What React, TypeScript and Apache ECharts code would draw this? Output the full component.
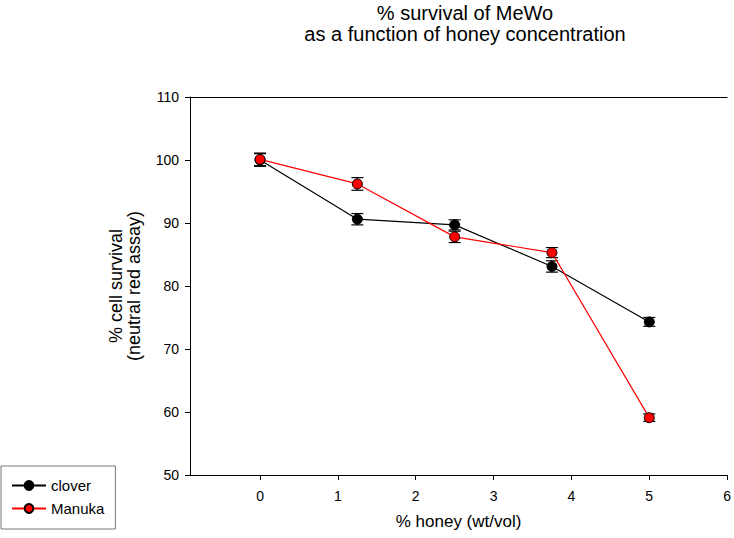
import React, { useEffect, useRef } from "react";
import * as echarts from "echarts";

const xValues = [0, 1.25, 2.5, 3.75, 5];
const cloverValues = [100, 90.6, 89.7, 83.1, 74.3];
const cloverErrors = [1.0, 0.9, 0.8, 0.9, 0.7];
const manukaValues = [100.1, 96.2, 87.8, 85.3, 59.1];
const manukaErrors = [1.0, 1.0, 0.9, 0.8, 0.6];
const xTicks = [0, 1, 2, 3, 4, 5, 6];
const seriesNames = ["clover", "Manuka"];

const FONT = "'Liberation Sans', Arial, sans-serif";

function errData(vals: number[], errs: number[]) {
  return xValues.map((x, i) => [x, vals[i] - errs[i], vals[i] + errs[i]]);
}

const renderErr = (params: any, api: any) => {
  const x = api.value(0);
  const lo = api.coord([x, api.value(1)]);
  const hi = api.coord([x, api.value(2)]);
  const hw = 6;
  const style = { stroke: "#000", lineWidth: 1.2 };
  return {
    type: "group",
    children: [
      { type: "line", shape: { x1: lo[0], y1: lo[1], x2: hi[0], y2: hi[1] }, style },
      { type: "line", shape: { x1: lo[0] - hw, y1: lo[1], x2: lo[0] + hw, y2: lo[1] }, style },
      { type: "line", shape: { x1: hi[0] - hw, y1: hi[1], x2: hi[0] + hw, y2: hi[1] }, style },
    ],
  };
};

export default function App() {
  const ref = useRef<HTMLDivElement>(null);
  useEffect(() => {
    if (!ref.current) return;
    const chart = echarts.init(ref.current, undefined, { renderer: "svg" });
    chart.setOption({
      animation: false,
      backgroundColor: "#fff",
      textStyle: { fontFamily: FONT },
      title: {
        text: "% survival of MeWo\nas a function of honey concentration",
        left: 460,
        top: -3,
        textAlign: "center",
        textStyle: { fontFamily: FONT, fontSize: 20, fontWeight: "normal", color: "#000", lineHeight: 21 },
      },
      legend: {
        data: seriesNames,
        orient: "vertical",
        left: 1,
        top: 466,
        padding: [12, 11, 13, 10],
        itemGap: 8,
        itemWidth: 34,
        itemHeight: 11,
        borderColor: "#777",
        borderWidth: 1,
        borderRadius: 0,
        textStyle: { fontFamily: FONT, fontSize: 15, color: "#000" },
      },
      grid: { left: 190, right: 4, top: 97, bottom: 63, containLabel: false },
      xAxis: [
        {
          type: "value",
          min: -0.9,
          max: 6,
          name: "% honey (wt/vol)",
          nameLocation: "middle",
          nameGap: 38,
          nameTextStyle: { fontFamily: FONT, fontSize: 17, color: "#000" },
          axisLine: { show: true, onZero: false, lineStyle: { color: "#000", width: 1 } },
          axisTick: { show: true, inside: false, length: 5, customValues: xTicks, lineStyle: { color: "#000" } },
          axisLabel: { customValues: xTicks, margin: 14, fontFamily: FONT, fontSize: 14, color: "#000" },
          splitLine: { show: false },
        },
        {
          type: "value",
          position: "top",
          min: -0.9,
          max: 6,
          axisLine: { show: true, onZero: false, lineStyle: { color: "#000", width: 1 } },
          axisTick: { show: false },
          axisLabel: { show: false },
          splitLine: { show: false },
        },
      ],
      yAxis: {
        type: "value",
        min: 50,
        max: 110,
        interval: 10,
        name: "% cell survival\n(neutral red assay)",
        nameLocation: "middle",
        nameRotate: 90,
        nameGap: 47,
        nameTextStyle: { fontFamily: FONT, fontSize: 18, color: "#000", lineHeight: 18 },
        axisLine: { show: true, onZero: false, lineStyle: { color: "#000", width: 1 } },
        axisTick: { show: true, inside: false, length: 5, lineStyle: { color: "#000" } },
        axisLabel: { margin: 11, fontFamily: FONT, fontSize: 14, color: "#000" },
        splitLine: { show: false },
      },
      series: [
        {
          type: "custom",
          name: "clover-err",
          renderItem: renderErr,
          data: errData(cloverValues, cloverErrors),
          encode: { x: 0, y: [1, 2] },
          z: 1,
        },
        {
          type: "custom",
          name: "manuka-err",
          renderItem: renderErr,
          data: errData(manukaValues, manukaErrors),
          encode: { x: 0, y: [1, 2] },
          z: 1,
        },
        {
          type: "line",
          name: "clover",
          data: xValues.map((x, i) => [x, cloverValues[i]]),
          symbol: "circle",
          symbolSize: 10,
          lineStyle: { color: "#000", width: 1.2 },
          itemStyle: { color: "#000", borderColor: "#000", borderWidth: 1 },
          z: 3,
        },
        {
          type: "line",
          name: "Manuka",
          data: xValues.map((x, i) => [x, manukaValues[i]]),
          symbol: "circle",
          symbolSize: 10,
          lineStyle: { color: "#ff0000", width: 1.2 },
          itemStyle: { color: "#ff0000", borderColor: "#000", borderWidth: 1 },
          z: 4,
        },
      ],
    });
    return () => chart.dispose();
  }, []);
  return <div ref={ref} style={{ width: 734, height: 538, position: "absolute", left: 0, top: 0 }} />;
}
